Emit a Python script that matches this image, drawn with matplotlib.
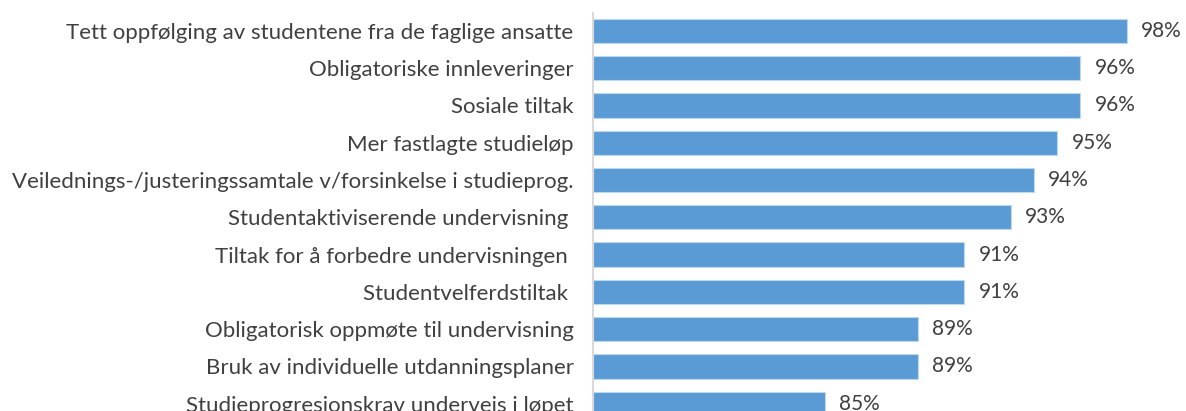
import matplotlib.pyplot as plt

# tiltak og andel (%)
tiltak = [
    "Tett oppfølging av studentene fra de faglige ansatte",
    "Obligatoriske innleveringer",
    "Sosiale tiltak",
    "Mer fastlagte studieløp",
    "Veilednings-/justeringssamtale v/forsinkelse i studieprog.",
    "Studentaktiviserende undervisning ",
    "Tiltak for å forbedre undervisningen ",
    "Studentvelferdstiltak ",
    "Obligatorisk oppmøte til undervisning",
    "Bruk av individuelle utdanningsplaner",
    "Studieprogresjonskrav underveis i løpet",
]
andel = [98, 96, 96, 95, 94, 93, 91, 91, 89, 89, 85]

plt.rcParams['font.family'] = ['Lato', 'DejaVu Sans']

fig = plt.figure(figsize=(11.86, 4.11), dpi=100)
# axes run past the lower edge, so the last bar is cut
ax = fig.add_axes([593 / 1186, -30 / 411, 1 - 593 / 1186, 428 / 411])

pos = list(range(len(tiltak)))
ax.barh(pos, [a - 75 for a in andel], left=75, height=0.65,
        color='#5B9BD5', edgecolor='#BDD7EE', linewidth=0.8)

for p, a in zip(pos, andel):
    ax.text(a + 0.62, p, f"{a}%", va='center', ha='left',
            fontsize=15, color='#404040')

ax.set_xlim(75, 100.55)
ax.set_ylim(11.0, -0.48)
ax.set_yticks(pos)
ax.set_yticklabels(tiltak, fontsize=16, color='#404040')
ax.tick_params(axis='y', length=0, pad=14)
ax.set_xticks([])
for s in ['top', 'right', 'bottom']:
    ax.spines[s].set_visible(False)
ax.spines['left'].set_color('#D9D9D9')
ax.spines['left'].set_linewidth(1.5)

fig.savefig('out.png', dpi=100)
